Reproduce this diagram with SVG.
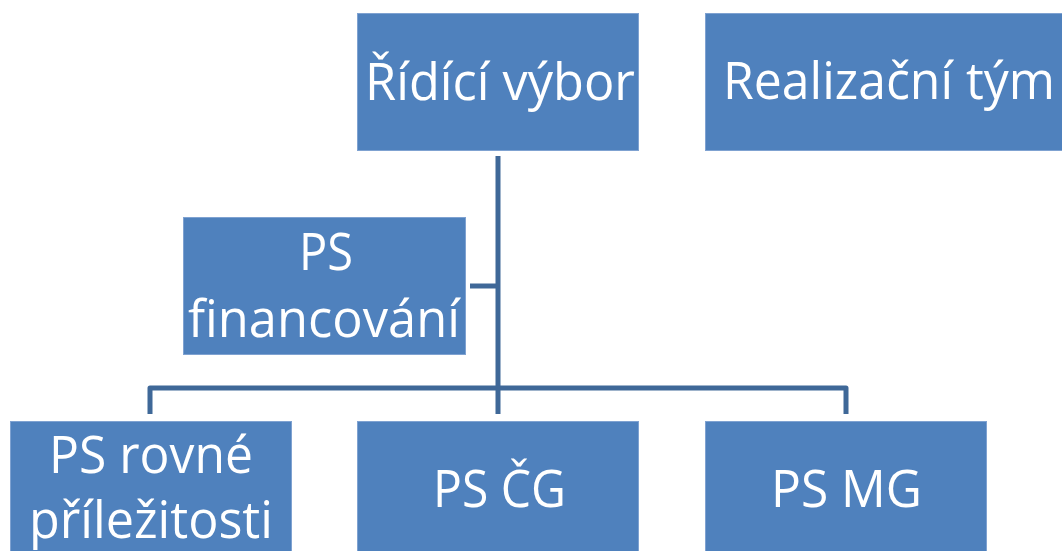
<svg xmlns="http://www.w3.org/2000/svg" width="1062" height="551" viewBox="0 0 1062 551">
<style>
.box{fill:#4F81BD;stroke:#7FA2D1;stroke-width:1}
.t{font-family:"Open Sans","Noto Sans","Liberation Sans",sans-serif;font-size:51px;fill:#FFFFFF;text-anchor:middle}
.c{fill:none;stroke:#3F6898;stroke-width:5;stroke-linejoin:round}
</style>
<rect width="1062" height="551" fill="#FFFFFF"/>
<g id="connectors">
<path class="c" d="M498 156 V414"/>
<path class="c" d="M150 414 V388 H846 V414"/>
<path class="c" d="M470 286 H498"/>
</g>
<g id="ridici-vybor">
<rect class="box" x="357.5" y="13.5" width="281" height="137"/>
<text class="t" x="500" y="100" textLength="270" lengthAdjust="spacingAndGlyphs">Řídící výbor</text>
</g>
<g id="realizacni-tym">
<rect class="box" x="705.5" y="13.5" width="357" height="137"/>
<text class="t" x="889" y="99" textLength="332" lengthAdjust="spacingAndGlyphs">Realizační tým</text>
</g>
<g id="ps-financovani">
<rect class="box" x="183.5" y="217.5" width="282" height="137"/>
<text class="t" x="326" y="270" textLength="54" lengthAdjust="spacingAndGlyphs">PS</text>
<text class="t" x="324" y="337" textLength="272" lengthAdjust="spacingAndGlyphs">financování</text>
</g>
<g id="ps-rovne">
<rect class="box" x="10.5" y="421.5" width="281" height="140"/>
<text class="t" x="151" y="473" textLength="204" lengthAdjust="spacingAndGlyphs">PS rovné</text>
<text class="t" x="151" y="538" textLength="244" lengthAdjust="spacingAndGlyphs">příležitosti</text>
</g>
<g id="ps-cg">
<rect class="box" x="357.5" y="421.5" width="281" height="140"/>
<text class="t" x="499.5" y="507" textLength="133" lengthAdjust="spacingAndGlyphs">PS ČG</text>
</g>
<g id="ps-mg">
<rect class="box" x="705.5" y="421.5" width="281" height="140"/>
<text class="t" x="846.5" y="507" textLength="151" lengthAdjust="spacingAndGlyphs">PS MG</text>
</g>
</svg>
